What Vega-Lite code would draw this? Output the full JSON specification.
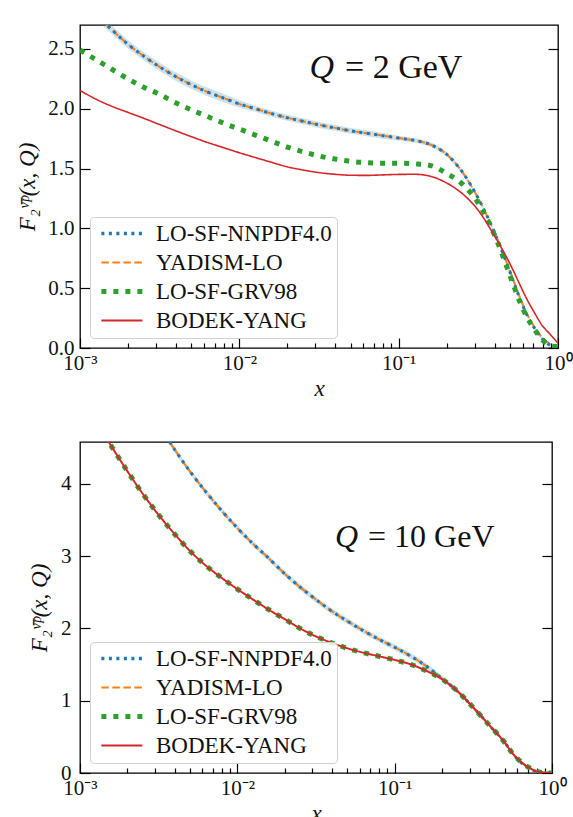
{
  "$schema": "https://vega.github.io/schema/vega-lite/v6.json",
  "background": "white",
  "padding": {"top": 24, "left": 16, "right": 0, "bottom": 0},
  "spacing": 40,
  "columns": 1,
  "align": "none",
  "config": {
    "view": {"stroke": "black", "strokeWidth": 1.3},
    "axis": {"grid": false, "domain": false, "tickColor": "black", "tickWidth": 1.2, "labelFont": "Liberation Serif", "labelFontSize": 21, "labelColor": "#111", "titleFont": "Liberation Serif", "titleFontSize": 23, "titleFontWeight": "normal", "titleColor": "#111"},
    "legend": {"orient": "bottom-left", "offset": 10, "title": null, "labelFont": "Liberation Serif", "labelFontSize": 23, "labelColor": "#111", "labelLimit": 400, "symbolType": "M-1,0H7", "symbolSize": 105, "symbolStrokeWidth": 2.2, "strokeColor": "#d0d0d0", "fillColor": "rgba(255,255,255,0.85)", "padding": 5, "cornerRadius": 4, "rowPadding": 5, "labelOffset": 38}
  },
  "datasets": {
    "top": [
      {"s":"LO-SF-NNPDF4.0","x":0.001,"y":2.90,"lo":2.865,"hi":2.935},
      {"s":"LO-SF-NNPDF4.0","x":0.001259,"y":2.78,"lo":2.745,"hi":2.815},
      {"s":"LO-SF-NNPDF4.0","x":0.001585,"y":2.66,"lo":2.625,"hi":2.695},
      {"s":"LO-SF-NNPDF4.0","x":0.001995,"y":2.54,"lo":2.505,"hi":2.575},
      {"s":"LO-SF-NNPDF4.0","x":0.002512,"y":2.44,"lo":2.405,"hi":2.475},
      {"s":"LO-SF-NNPDF4.0","x":0.003162,"y":2.35,"lo":2.315,"hi":2.385},
      {"s":"LO-SF-NNPDF4.0","x":0.003981,"y":2.27,"lo":2.235,"hi":2.305},
      {"s":"LO-SF-NNPDF4.0","x":0.005012,"y":2.20,"lo":2.165,"hi":2.235},
      {"s":"LO-SF-NNPDF4.0","x":0.00631,"y":2.14,"lo":2.105,"hi":2.175},
      {"s":"LO-SF-NNPDF4.0","x":0.007943,"y":2.09,"lo":2.055,"hi":2.125},
      {"s":"LO-SF-NNPDF4.0","x":0.01,"y":2.04,"lo":2.01,"hi":2.07},
      {"s":"LO-SF-NNPDF4.0","x":0.01259,"y":2.00,"lo":1.975,"hi":2.025},
      {"s":"LO-SF-NNPDF4.0","x":0.01585,"y":1.96,"lo":1.935,"hi":1.985},
      {"s":"LO-SF-NNPDF4.0","x":0.01995,"y":1.925,"lo":1.90,"hi":1.95},
      {"s":"LO-SF-NNPDF4.0","x":0.02512,"y":1.895,"lo":1.87,"hi":1.92},
      {"s":"LO-SF-NNPDF4.0","x":0.03162,"y":1.865,"lo":1.84,"hi":1.89},
      {"s":"LO-SF-NNPDF4.0","x":0.03981,"y":1.84,"lo":1.815,"hi":1.865},
      {"s":"LO-SF-NNPDF4.0","x":0.05012,"y":1.815,"lo":1.79,"hi":1.84},
      {"s":"LO-SF-NNPDF4.0","x":0.0631,"y":1.795,"lo":1.77,"hi":1.82},
      {"s":"LO-SF-NNPDF4.0","x":0.07943,"y":1.775,"lo":1.75,"hi":1.80},
      {"s":"LO-SF-NNPDF4.0","x":0.1,"y":1.755,"lo":1.735,"hi":1.775},
      {"s":"LO-SF-NNPDF4.0","x":0.1259,"y":1.735,"lo":1.715,"hi":1.755},
      {"s":"LO-SF-NNPDF4.0","x":0.1585,"y":1.70,"lo":1.68,"hi":1.72},
      {"s":"LO-SF-NNPDF4.0","x":0.1995,"y":1.62,"lo":1.60,"hi":1.64},
      {"s":"LO-SF-NNPDF4.0","x":0.2512,"y":1.47,"lo":1.45,"hi":1.49},
      {"s":"LO-SF-NNPDF4.0","x":0.3162,"y":1.25,"lo":1.235,"hi":1.265},
      {"s":"LO-SF-NNPDF4.0","x":0.3981,"y":0.97,"lo":0.955,"hi":0.985},
      {"s":"LO-SF-NNPDF4.0","x":0.5012,"y":0.63,"lo":0.615,"hi":0.645},
      {"s":"LO-SF-NNPDF4.0","x":0.5623,"y":0.45,"lo":0.435,"hi":0.465},
      {"s":"LO-SF-NNPDF4.0","x":0.631,"y":0.29,"lo":0.275,"hi":0.305},
      {"s":"LO-SF-NNPDF4.0","x":0.7079,"y":0.17,"lo":0.155,"hi":0.185},
      {"s":"LO-SF-NNPDF4.0","x":0.7943,"y":0.08,"lo":0.065,"hi":0.095},
      {"s":"LO-SF-NNPDF4.0","x":0.8913,"y":0.025,"lo":0.01,"hi":0.04},
      {"s":"LO-SF-NNPDF4.0","x":1,"y":0.01,"lo":0.0,"hi":0.025},

      {"s":"YADISM-LO","x":0.001,"y":2.90},
      {"s":"YADISM-LO","x":0.001259,"y":2.78},
      {"s":"YADISM-LO","x":0.001585,"y":2.66},
      {"s":"YADISM-LO","x":0.001995,"y":2.54},
      {"s":"YADISM-LO","x":0.002512,"y":2.44},
      {"s":"YADISM-LO","x":0.003162,"y":2.35},
      {"s":"YADISM-LO","x":0.003981,"y":2.27},
      {"s":"YADISM-LO","x":0.005012,"y":2.20},
      {"s":"YADISM-LO","x":0.00631,"y":2.14},
      {"s":"YADISM-LO","x":0.007943,"y":2.09},
      {"s":"YADISM-LO","x":0.01,"y":2.04},
      {"s":"YADISM-LO","x":0.01259,"y":2.00},
      {"s":"YADISM-LO","x":0.01585,"y":1.96},
      {"s":"YADISM-LO","x":0.01995,"y":1.925},
      {"s":"YADISM-LO","x":0.02512,"y":1.895},
      {"s":"YADISM-LO","x":0.03162,"y":1.865},
      {"s":"YADISM-LO","x":0.03981,"y":1.84},
      {"s":"YADISM-LO","x":0.05012,"y":1.815},
      {"s":"YADISM-LO","x":0.0631,"y":1.795},
      {"s":"YADISM-LO","x":0.07943,"y":1.775},
      {"s":"YADISM-LO","x":0.1,"y":1.755},
      {"s":"YADISM-LO","x":0.1259,"y":1.735},
      {"s":"YADISM-LO","x":0.1585,"y":1.70},
      {"s":"YADISM-LO","x":0.1995,"y":1.62},
      {"s":"YADISM-LO","x":0.2512,"y":1.47},
      {"s":"YADISM-LO","x":0.3162,"y":1.25},
      {"s":"YADISM-LO","x":0.3981,"y":0.97},
      {"s":"YADISM-LO","x":0.5012,"y":0.64},
      {"s":"YADISM-LO","x":0.5623,"y":0.46},
      {"s":"YADISM-LO","x":0.631,"y":0.30},
      {"s":"YADISM-LO","x":0.7079,"y":0.18},
      {"s":"YADISM-LO","x":0.7943,"y":0.09},
      {"s":"YADISM-LO","x":0.8913,"y":0.035},
      {"s":"YADISM-LO","x":1,"y":0.02},

      {"s":"LO-SF-GRV98","x":0.001,"y":2.49},
      {"s":"LO-SF-GRV98","x":0.001259,"y":2.41},
      {"s":"LO-SF-GRV98","x":0.001585,"y":2.33},
      {"s":"LO-SF-GRV98","x":0.001995,"y":2.25},
      {"s":"LO-SF-GRV98","x":0.002512,"y":2.18},
      {"s":"LO-SF-GRV98","x":0.003162,"y":2.12},
      {"s":"LO-SF-GRV98","x":0.003981,"y":2.05},
      {"s":"LO-SF-GRV98","x":0.005012,"y":1.99},
      {"s":"LO-SF-GRV98","x":0.00631,"y":1.935},
      {"s":"LO-SF-GRV98","x":0.007943,"y":1.88},
      {"s":"LO-SF-GRV98","x":0.01,"y":1.83},
      {"s":"LO-SF-GRV98","x":0.01259,"y":1.78},
      {"s":"LO-SF-GRV98","x":0.01585,"y":1.73},
      {"s":"LO-SF-GRV98","x":0.01995,"y":1.68},
      {"s":"LO-SF-GRV98","x":0.02512,"y":1.64},
      {"s":"LO-SF-GRV98","x":0.03162,"y":1.605},
      {"s":"LO-SF-GRV98","x":0.03981,"y":1.58},
      {"s":"LO-SF-GRV98","x":0.05012,"y":1.56},
      {"s":"LO-SF-GRV98","x":0.0631,"y":1.55},
      {"s":"LO-SF-GRV98","x":0.07943,"y":1.545},
      {"s":"LO-SF-GRV98","x":0.1,"y":1.545},
      {"s":"LO-SF-GRV98","x":0.1259,"y":1.54},
      {"s":"LO-SF-GRV98","x":0.1585,"y":1.525},
      {"s":"LO-SF-GRV98","x":0.1995,"y":1.46},
      {"s":"LO-SF-GRV98","x":0.2512,"y":1.37},
      {"s":"LO-SF-GRV98","x":0.3162,"y":1.21},
      {"s":"LO-SF-GRV98","x":0.3981,"y":0.95},
      {"s":"LO-SF-GRV98","x":0.5012,"y":0.60},
      {"s":"LO-SF-GRV98","x":0.5623,"y":0.42},
      {"s":"LO-SF-GRV98","x":0.631,"y":0.27},
      {"s":"LO-SF-GRV98","x":0.7079,"y":0.16},
      {"s":"LO-SF-GRV98","x":0.7943,"y":0.07},
      {"s":"LO-SF-GRV98","x":0.8913,"y":0.02},
      {"s":"LO-SF-GRV98","x":1,"y":0.01},

      {"s":"BODEK-YANG","x":0.001,"y":2.153},
      {"s":"BODEK-YANG","x":0.001259,"y":2.08},
      {"s":"BODEK-YANG","x":0.001585,"y":2.02},
      {"s":"BODEK-YANG","x":0.001995,"y":1.97},
      {"s":"BODEK-YANG","x":0.002512,"y":1.92},
      {"s":"BODEK-YANG","x":0.003162,"y":1.868},
      {"s":"BODEK-YANG","x":0.003981,"y":1.816},
      {"s":"BODEK-YANG","x":0.005012,"y":1.766},
      {"s":"BODEK-YANG","x":0.00631,"y":1.718},
      {"s":"BODEK-YANG","x":0.007943,"y":1.675},
      {"s":"BODEK-YANG","x":0.01,"y":1.632},
      {"s":"BODEK-YANG","x":0.01259,"y":1.592},
      {"s":"BODEK-YANG","x":0.01585,"y":1.553},
      {"s":"BODEK-YANG","x":0.01995,"y":1.515},
      {"s":"BODEK-YANG","x":0.02512,"y":1.488},
      {"s":"BODEK-YANG","x":0.03162,"y":1.466},
      {"s":"BODEK-YANG","x":0.03981,"y":1.452},
      {"s":"BODEK-YANG","x":0.05012,"y":1.444},
      {"s":"BODEK-YANG","x":0.0631,"y":1.443},
      {"s":"BODEK-YANG","x":0.07943,"y":1.447},
      {"s":"BODEK-YANG","x":0.1,"y":1.451},
      {"s":"BODEK-YANG","x":0.1259,"y":1.452},
      {"s":"BODEK-YANG","x":0.1585,"y":1.435},
      {"s":"BODEK-YANG","x":0.1995,"y":1.38},
      {"s":"BODEK-YANG","x":0.2512,"y":1.29},
      {"s":"BODEK-YANG","x":0.3162,"y":1.15},
      {"s":"BODEK-YANG","x":0.3981,"y":0.94},
      {"s":"BODEK-YANG","x":0.5012,"y":0.70},
      {"s":"BODEK-YANG","x":0.5623,"y":0.56},
      {"s":"BODEK-YANG","x":0.631,"y":0.42},
      {"s":"BODEK-YANG","x":0.7079,"y":0.30},
      {"s":"BODEK-YANG","x":0.7943,"y":0.19},
      {"s":"BODEK-YANG","x":0.8913,"y":0.115},
      {"s":"BODEK-YANG","x":1,"y":0.04}
    ],
    "bot": [
      {"s":"LO-SF-NNPDF4.0","x":0.001,"y":6.5,"lo":6.46,"hi":6.54},
      {"s":"LO-SF-NNPDF4.0","x":0.001259,"y":6.15,"lo":6.11,"hi":6.19},
      {"s":"LO-SF-NNPDF4.0","x":0.001585,"y":5.8,"lo":5.76,"hi":5.84},
      {"s":"LO-SF-NNPDF4.0","x":0.001995,"y":5.48,"lo":5.44,"hi":5.52},
      {"s":"LO-SF-NNPDF4.0","x":0.002512,"y":5.15,"lo":5.11,"hi":5.19},
      {"s":"LO-SF-NNPDF4.0","x":0.003162,"y":4.82,"lo":4.78,"hi":4.86},
      {"s":"LO-SF-NNPDF4.0","x":0.003981,"y":4.48,"lo":4.44,"hi":4.52},
      {"s":"LO-SF-NNPDF4.0","x":0.005012,"y":4.17,"lo":4.13,"hi":4.21},
      {"s":"LO-SF-NNPDF4.0","x":0.00631,"y":3.89,"lo":3.85,"hi":3.93},
      {"s":"LO-SF-NNPDF4.0","x":0.007943,"y":3.63,"lo":3.59,"hi":3.67},
      {"s":"LO-SF-NNPDF4.0","x":0.01,"y":3.39,"lo":3.35,"hi":3.43},
      {"s":"LO-SF-NNPDF4.0","x":0.01259,"y":3.17,"lo":3.13,"hi":3.21},
      {"s":"LO-SF-NNPDF4.0","x":0.01585,"y":2.97,"lo":2.93,"hi":3.01},
      {"s":"LO-SF-NNPDF4.0","x":0.01995,"y":2.76,"lo":2.72,"hi":2.80},
      {"s":"LO-SF-NNPDF4.0","x":0.02512,"y":2.57,"lo":2.53,"hi":2.61},
      {"s":"LO-SF-NNPDF4.0","x":0.03162,"y":2.40,"lo":2.36,"hi":2.44},
      {"s":"LO-SF-NNPDF4.0","x":0.03981,"y":2.24,"lo":2.20,"hi":2.28},
      {"s":"LO-SF-NNPDF4.0","x":0.05012,"y":2.10,"lo":2.06,"hi":2.14},
      {"s":"LO-SF-NNPDF4.0","x":0.0631,"y":1.97,"lo":1.93,"hi":2.01},
      {"s":"LO-SF-NNPDF4.0","x":0.07943,"y":1.85,"lo":1.81,"hi":1.89},
      {"s":"LO-SF-NNPDF4.0","x":0.1,"y":1.74,"lo":1.70,"hi":1.78},
      {"s":"LO-SF-NNPDF4.0","x":0.1259,"y":1.62,"lo":1.58,"hi":1.66},
      {"s":"LO-SF-NNPDF4.0","x":0.1585,"y":1.48,"lo":1.44,"hi":1.52},
      {"s":"LO-SF-NNPDF4.0","x":0.1995,"y":1.31,"lo":1.27,"hi":1.35},
      {"s":"LO-SF-NNPDF4.0","x":0.2512,"y":1.13,"lo":1.10,"hi":1.16},
      {"s":"LO-SF-NNPDF4.0","x":0.3162,"y":0.905,"lo":0.875,"hi":0.935},
      {"s":"LO-SF-NNPDF4.0","x":0.3981,"y":0.665,"lo":0.64,"hi":0.69},
      {"s":"LO-SF-NNPDF4.0","x":0.5012,"y":0.42,"lo":0.40,"hi":0.44},
      {"s":"LO-SF-NNPDF4.0","x":0.5623,"y":0.27,"lo":0.25,"hi":0.29},
      {"s":"LO-SF-NNPDF4.0","x":0.631,"y":0.15,"lo":0.135,"hi":0.165},
      {"s":"LO-SF-NNPDF4.0","x":0.7079,"y":0.07,"lo":0.055,"hi":0.085},
      {"s":"LO-SF-NNPDF4.0","x":0.7943,"y":0.02,"lo":0.01,"hi":0.03},
      {"s":"LO-SF-NNPDF4.0","x":0.8913,"y":0.005,"lo":0.0,"hi":0.015},
      {"s":"LO-SF-NNPDF4.0","x":1,"y":0.0,"lo":0.0,"hi":0.01},

      {"s":"YADISM-LO","x":0.001,"y":6.5},
      {"s":"YADISM-LO","x":0.001259,"y":6.15},
      {"s":"YADISM-LO","x":0.001585,"y":5.8},
      {"s":"YADISM-LO","x":0.001995,"y":5.48},
      {"s":"YADISM-LO","x":0.002512,"y":5.15},
      {"s":"YADISM-LO","x":0.003162,"y":4.82},
      {"s":"YADISM-LO","x":0.003981,"y":4.48},
      {"s":"YADISM-LO","x":0.005012,"y":4.17},
      {"s":"YADISM-LO","x":0.00631,"y":3.89},
      {"s":"YADISM-LO","x":0.007943,"y":3.63},
      {"s":"YADISM-LO","x":0.01,"y":3.39},
      {"s":"YADISM-LO","x":0.01259,"y":3.17},
      {"s":"YADISM-LO","x":0.01585,"y":2.97},
      {"s":"YADISM-LO","x":0.01995,"y":2.76},
      {"s":"YADISM-LO","x":0.02512,"y":2.57},
      {"s":"YADISM-LO","x":0.03162,"y":2.40},
      {"s":"YADISM-LO","x":0.03981,"y":2.24},
      {"s":"YADISM-LO","x":0.05012,"y":2.10},
      {"s":"YADISM-LO","x":0.0631,"y":1.97},
      {"s":"YADISM-LO","x":0.07943,"y":1.85},
      {"s":"YADISM-LO","x":0.1,"y":1.74},
      {"s":"YADISM-LO","x":0.1259,"y":1.62},
      {"s":"YADISM-LO","x":0.1585,"y":1.48},
      {"s":"YADISM-LO","x":0.1995,"y":1.31},
      {"s":"YADISM-LO","x":0.2512,"y":1.13},
      {"s":"YADISM-LO","x":0.3162,"y":0.905},
      {"s":"YADISM-LO","x":0.3981,"y":0.665},
      {"s":"YADISM-LO","x":0.5012,"y":0.42},
      {"s":"YADISM-LO","x":0.5623,"y":0.27},
      {"s":"YADISM-LO","x":0.631,"y":0.155},
      {"s":"YADISM-LO","x":0.7079,"y":0.075},
      {"s":"YADISM-LO","x":0.7943,"y":0.025},
      {"s":"YADISM-LO","x":0.8913,"y":0.008},
      {"s":"YADISM-LO","x":1,"y":0.003},

      {"s":"LO-SF-GRV98","x":0.001,"y":5.25},
      {"s":"LO-SF-GRV98","x":0.001259,"y":4.88},
      {"s":"LO-SF-GRV98","x":0.001585,"y":4.52},
      {"s":"LO-SF-GRV98","x":0.001995,"y":4.18},
      {"s":"LO-SF-GRV98","x":0.002512,"y":3.86},
      {"s":"LO-SF-GRV98","x":0.003162,"y":3.57},
      {"s":"LO-SF-GRV98","x":0.003981,"y":3.31},
      {"s":"LO-SF-GRV98","x":0.005012,"y":3.07},
      {"s":"LO-SF-GRV98","x":0.00631,"y":2.87},
      {"s":"LO-SF-GRV98","x":0.007943,"y":2.70},
      {"s":"LO-SF-GRV98","x":0.01,"y":2.545},
      {"s":"LO-SF-GRV98","x":0.01259,"y":2.40},
      {"s":"LO-SF-GRV98","x":0.01585,"y":2.26},
      {"s":"LO-SF-GRV98","x":0.01995,"y":2.13},
      {"s":"LO-SF-GRV98","x":0.02512,"y":2.00},
      {"s":"LO-SF-GRV98","x":0.03162,"y":1.89},
      {"s":"LO-SF-GRV98","x":0.03981,"y":1.80},
      {"s":"LO-SF-GRV98","x":0.05012,"y":1.725},
      {"s":"LO-SF-GRV98","x":0.0631,"y":1.665},
      {"s":"LO-SF-GRV98","x":0.07943,"y":1.615},
      {"s":"LO-SF-GRV98","x":0.1,"y":1.565},
      {"s":"LO-SF-GRV98","x":0.1259,"y":1.505},
      {"s":"LO-SF-GRV98","x":0.1585,"y":1.415},
      {"s":"LO-SF-GRV98","x":0.1995,"y":1.30},
      {"s":"LO-SF-GRV98","x":0.2512,"y":1.13},
      {"s":"LO-SF-GRV98","x":0.3162,"y":0.905},
      {"s":"LO-SF-GRV98","x":0.3981,"y":0.665},
      {"s":"LO-SF-GRV98","x":0.5012,"y":0.42},
      {"s":"LO-SF-GRV98","x":0.5623,"y":0.27},
      {"s":"LO-SF-GRV98","x":0.631,"y":0.16},
      {"s":"LO-SF-GRV98","x":0.7079,"y":0.08},
      {"s":"LO-SF-GRV98","x":0.7943,"y":0.025},
      {"s":"LO-SF-GRV98","x":0.8913,"y":0.005},
      {"s":"LO-SF-GRV98","x":1,"y":0.0},

      {"s":"BODEK-YANG","x":0.001,"y":5.25},
      {"s":"BODEK-YANG","x":0.001259,"y":4.88},
      {"s":"BODEK-YANG","x":0.001585,"y":4.52},
      {"s":"BODEK-YANG","x":0.001995,"y":4.18},
      {"s":"BODEK-YANG","x":0.002512,"y":3.86},
      {"s":"BODEK-YANG","x":0.003162,"y":3.57},
      {"s":"BODEK-YANG","x":0.003981,"y":3.31},
      {"s":"BODEK-YANG","x":0.005012,"y":3.07},
      {"s":"BODEK-YANG","x":0.00631,"y":2.87},
      {"s":"BODEK-YANG","x":0.007943,"y":2.70},
      {"s":"BODEK-YANG","x":0.01,"y":2.545},
      {"s":"BODEK-YANG","x":0.01259,"y":2.40},
      {"s":"BODEK-YANG","x":0.01585,"y":2.26},
      {"s":"BODEK-YANG","x":0.01995,"y":2.13},
      {"s":"BODEK-YANG","x":0.02512,"y":2.00},
      {"s":"BODEK-YANG","x":0.03162,"y":1.89},
      {"s":"BODEK-YANG","x":0.03981,"y":1.80},
      {"s":"BODEK-YANG","x":0.05012,"y":1.725},
      {"s":"BODEK-YANG","x":0.0631,"y":1.665},
      {"s":"BODEK-YANG","x":0.07943,"y":1.615},
      {"s":"BODEK-YANG","x":0.1,"y":1.565},
      {"s":"BODEK-YANG","x":0.1259,"y":1.505},
      {"s":"BODEK-YANG","x":0.1585,"y":1.415},
      {"s":"BODEK-YANG","x":0.1995,"y":1.30},
      {"s":"BODEK-YANG","x":0.2512,"y":1.13},
      {"s":"BODEK-YANG","x":0.3162,"y":0.905},
      {"s":"BODEK-YANG","x":0.3981,"y":0.665},
      {"s":"BODEK-YANG","x":0.5012,"y":0.42},
      {"s":"BODEK-YANG","x":0.5623,"y":0.27},
      {"s":"BODEK-YANG","x":0.631,"y":0.16},
      {"s":"BODEK-YANG","x":0.7079,"y":0.08},
      {"s":"BODEK-YANG","x":0.7943,"y":0.025},
      {"s":"BODEK-YANG","x":0.8913,"y":0.005},
      {"s":"BODEK-YANG","x":1,"y":0.0}
    ]
  },
  "resolve": {"scale": {"x": "independent", "y": "independent", "color": "independent", "strokeDash": "independent"}},
  "concat": [
    {
      "width": 478,
      "height": 323,
      "data": {"name": "top"},
      "resolve": {"axis": {"x": "independent", "y": "independent"}},
      "layer": [
        {
          "transform": [{"filter": "datum.s == 'LO-SF-NNPDF4.0'"}],
          "mark": {"type": "area", "clip": true, "color": "#1f77b4", "opacity": 0.22, "interpolate": "monotone"},
          "encoding": {
            "x": {"field": "x", "type": "quantitative", "scale": {"type": "log", "domain": [0.001, 1], "nice": false},
              "axis": {"orient": "bottom", "values": [0.002,0.003,0.004,0.005,0.006,0.007,0.008,0.009,0.02,0.03,0.04,0.05,0.06,0.07,0.08,0.09,0.2,0.3,0.4,0.5,0.6,0.7,0.8,0.9], "tickSize": -5, "labels": false, "title": null}},
            "y": {"field": "lo", "type": "quantitative", "scale": {"domain": [0, 2.7], "nice": false, "zero": false},
              "axis": {"orient": "left", "values": [0, 0.5, 1, 1.5, 2, 2.5], "format": ".1f", "tickSize": -10, "labelPadding": 16, "labelFlush": false, "title": "F₂ᵛ̄ᵖ(x, Q)", "titleFontStyle": "italic", "titlePadding": 8}},
            "y2": {"field": "hi"}
          }
        },
        {
          "transform": [{"filter": "datum.s == 'YADISM-LO'"}],
          "mark": {"type": "line", "clip": true, "interpolate": "monotone", "strokeWidth": 2},
          "encoding": {
            "x": {"field": "x", "type": "quantitative",
              "axis": {"orient": "bottom", "values": [0.001, 0.01, 0.1, 1],
                "labelExpr": "datum.value == 0.001 ? '10⁻³' : datum.value == 0.01 ? '10⁻²' : datum.value == 0.1 ? '10⁻¹' : '10⁰'",
                "tickSize": -10, "labelOverlap": false, "labelFlush": false, "labelPadding": 14, "title": "x", "titleFontStyle": "italic", "titlePadding": 4}},
            "y": {"field": "y", "type": "quantitative", "axis": null},
            "color": {"field": "s", "type": "nominal", "scale": {"domain": ["LO-SF-NNPDF4.0", "YADISM-LO", "LO-SF-GRV98", "BODEK-YANG"], "range": ["#1f77b4", "#ff7f0e", "#2ca02c", "#d62728"]},
              "legend": {"encode": {"symbols": {"update": {"strokeWidth": {"signal": "datum.value === 'LO-SF-GRV98' ? 5 : datum.value === 'LO-SF-NNPDF4.0' ? 3.5 : 2.2"}}}}}},
            "strokeDash": {"field": "s", "type": "nominal", "scale": {"domain": ["LO-SF-NNPDF4.0", "YADISM-LO", "LO-SF-GRV98", "BODEK-YANG"], "range": [[3, 4.5], [7.5, 3.5], [5, 7], [1, 0]]}}
          }
        },
        {
          "transform": [{"filter": "datum.s == 'LO-SF-NNPDF4.0'"}],
          "mark": {"type": "line", "clip": true, "interpolate": "monotone", "strokeWidth": 3},
          "encoding": {
            "x": {"field": "x", "type": "quantitative", "axis": null},
            "y": {"field": "y", "type": "quantitative", "axis": null},
            "color": {"field": "s", "type": "nominal"},
            "strokeDash": {"field": "s", "type": "nominal"}
          }
        },
        {
          "transform": [{"filter": "datum.s == 'LO-SF-GRV98'"}],
          "mark": {"type": "line", "clip": true, "interpolate": "monotone", "strokeWidth": 5},
          "encoding": {
            "x": {"field": "x", "type": "quantitative", "axis": null},
            "y": {"field": "y", "type": "quantitative", "axis": null},
            "color": {"field": "s", "type": "nominal"},
            "strokeDash": {"field": "s", "type": "nominal"}
          }
        },
        {
          "transform": [{"filter": "datum.s == 'BODEK-YANG'"}],
          "mark": {"type": "line", "clip": true, "interpolate": "monotone", "strokeWidth": 1.6},
          "encoding": {
            "x": {"field": "x", "type": "quantitative", "axis": null},
            "y": {"field": "y", "type": "quantitative", "axis": {"orient": "right", "values": [0, 0.5, 1, 1.5, 2, 2.5], "tickSize": -10, "labels": false, "title": null}},
            "color": {"field": "s", "type": "nominal"},
            "strokeDash": {"field": "s", "type": "nominal"}
          }
        },
        {
          "data": {"values": [{"x": 0.0393, "y": 2.26, "t": "= 2 GeV"}]},
          "mark": {"type": "text", "text": "Q", "font": "Liberation Serif", "fontStyle": "italic", "fontSize": 34, "align": "right", "baseline": "alphabetic", "color": "#111"},
          "encoding": {
            "x": {"field": "x", "type": "quantitative", "axis": null},
            "y": {"field": "y", "type": "quantitative", "axis": null}
          }
        },
        {
          "data": {"values": [{"x": 0.0393, "y": 2.26, "t": "= 2 GeV"}]},
          "mark": {"type": "text", "font": "Liberation Serif", "fontSize": 34, "align": "left", "baseline": "alphabetic", "dx": 11, "color": "#111"},
          "encoding": {
            "x": {"field": "x", "type": "quantitative", "axis": null},
            "y": {"field": "y", "type": "quantitative", "axis": null},
            "text": {"field": "t"}
          }
        }
      ]
    },
    {
      "width": 472,
      "height": 331,
      "data": {"name": "bot"},
      "resolve": {"axis": {"x": "independent", "y": "independent"}},
      "layer": [
        {
          "transform": [{"filter": "datum.s == 'LO-SF-NNPDF4.0'"}],
          "mark": {"type": "area", "clip": true, "color": "#1f77b4", "opacity": 0.22, "interpolate": "monotone"},
          "encoding": {
            "x": {"field": "x", "type": "quantitative", "scale": {"type": "log", "domain": [0.001, 1], "nice": false},
              "axis": {"orient": "bottom", "values": [0.002,0.003,0.004,0.005,0.006,0.007,0.008,0.009,0.02,0.03,0.04,0.05,0.06,0.07,0.08,0.09,0.2,0.3,0.4,0.5,0.6,0.7,0.8,0.9], "tickSize": -5, "labels": false, "title": null}},
            "y": {"field": "lo", "type": "quantitative", "scale": {"domain": [0, 4.58], "nice": false, "zero": false},
              "axis": {"orient": "left", "values": [0, 1, 2, 3, 4], "format": "d", "tickSize": -10, "labelPadding": 19, "labelFlush": false, "title": "F₂ᵛ̄ᵖ(x, Q)", "titleFontStyle": "italic", "titlePadding": 9}},
            "y2": {"field": "hi"}
          }
        },
        {
          "transform": [{"filter": "datum.s == 'YADISM-LO'"}],
          "mark": {"type": "line", "clip": true, "interpolate": "monotone", "strokeWidth": 2},
          "encoding": {
            "x": {"field": "x", "type": "quantitative",
              "axis": {"orient": "bottom", "values": [0.001, 0.01, 0.1, 1],
                "labelExpr": "datum.value == 0.001 ? '10⁻³' : datum.value == 0.01 ? '10⁻²' : datum.value == 0.1 ? '10⁻¹' : '10⁰'",
                "tickSize": -10, "labelOverlap": false, "labelFlush": false, "labelPadding": 14, "title": "x", "titleFontStyle": "italic", "titlePadding": 4}},
            "y": {"field": "y", "type": "quantitative", "axis": null},
            "color": {"field": "s", "type": "nominal", "scale": {"domain": ["LO-SF-NNPDF4.0", "YADISM-LO", "LO-SF-GRV98", "BODEK-YANG"], "range": ["#1f77b4", "#ff7f0e", "#2ca02c", "#d62728"]},
              "legend": {"encode": {"symbols": {"update": {"strokeWidth": {"signal": "datum.value === 'LO-SF-GRV98' ? 5 : datum.value === 'LO-SF-NNPDF4.0' ? 3.5 : 2.2"}}}}}},
            "strokeDash": {"field": "s", "type": "nominal", "scale": {"domain": ["LO-SF-NNPDF4.0", "YADISM-LO", "LO-SF-GRV98", "BODEK-YANG"], "range": [[3, 4.5], [7.5, 3.5], [5, 7], [1, 0]]}}
          }
        },
        {
          "transform": [{"filter": "datum.s == 'LO-SF-NNPDF4.0'"}],
          "mark": {"type": "line", "clip": true, "interpolate": "monotone", "strokeWidth": 3},
          "encoding": {
            "x": {"field": "x", "type": "quantitative", "axis": null},
            "y": {"field": "y", "type": "quantitative", "axis": null},
            "color": {"field": "s", "type": "nominal"},
            "strokeDash": {"field": "s", "type": "nominal"}
          }
        },
        {
          "transform": [{"filter": "datum.s == 'LO-SF-GRV98'"}],
          "mark": {"type": "line", "clip": true, "interpolate": "monotone", "strokeWidth": 5},
          "encoding": {
            "x": {"field": "x", "type": "quantitative", "axis": null},
            "y": {"field": "y", "type": "quantitative", "axis": null},
            "color": {"field": "s", "type": "nominal"},
            "strokeDash": {"field": "s", "type": "nominal"}
          }
        },
        {
          "transform": [{"filter": "datum.s == 'BODEK-YANG'"}],
          "mark": {"type": "line", "clip": true, "interpolate": "monotone", "strokeWidth": 2},
          "encoding": {
            "x": {"field": "x", "type": "quantitative", "axis": null},
            "y": {"field": "y", "type": "quantitative", "axis": {"orient": "right", "values": [0, 1, 2, 3, 4], "tickSize": -10, "labels": false, "title": null}},
            "color": {"field": "s", "type": "nominal"},
            "strokeDash": {"field": "s", "type": "nominal"}
          }
        },
        {
          "data": {"values": [{"x": 0.0585, "y": 3.126, "t": "= 10 GeV"}]},
          "mark": {"type": "text", "text": "Q", "font": "Liberation Serif", "fontStyle": "italic", "fontSize": 32, "align": "right", "baseline": "alphabetic", "color": "#111"},
          "encoding": {
            "x": {"field": "x", "type": "quantitative", "axis": null},
            "y": {"field": "y", "type": "quantitative", "axis": null}
          }
        },
        {
          "data": {"values": [{"x": 0.0585, "y": 3.126, "t": "= 10 GeV"}]},
          "mark": {"type": "text", "font": "Liberation Serif", "fontSize": 32, "align": "left", "baseline": "alphabetic", "dx": 10, "color": "#111"},
          "encoding": {
            "x": {"field": "x", "type": "quantitative", "axis": null},
            "y": {"field": "y", "type": "quantitative", "axis": null},
            "text": {"field": "t"}
          }
        }
      ]
    }
  ]
}
